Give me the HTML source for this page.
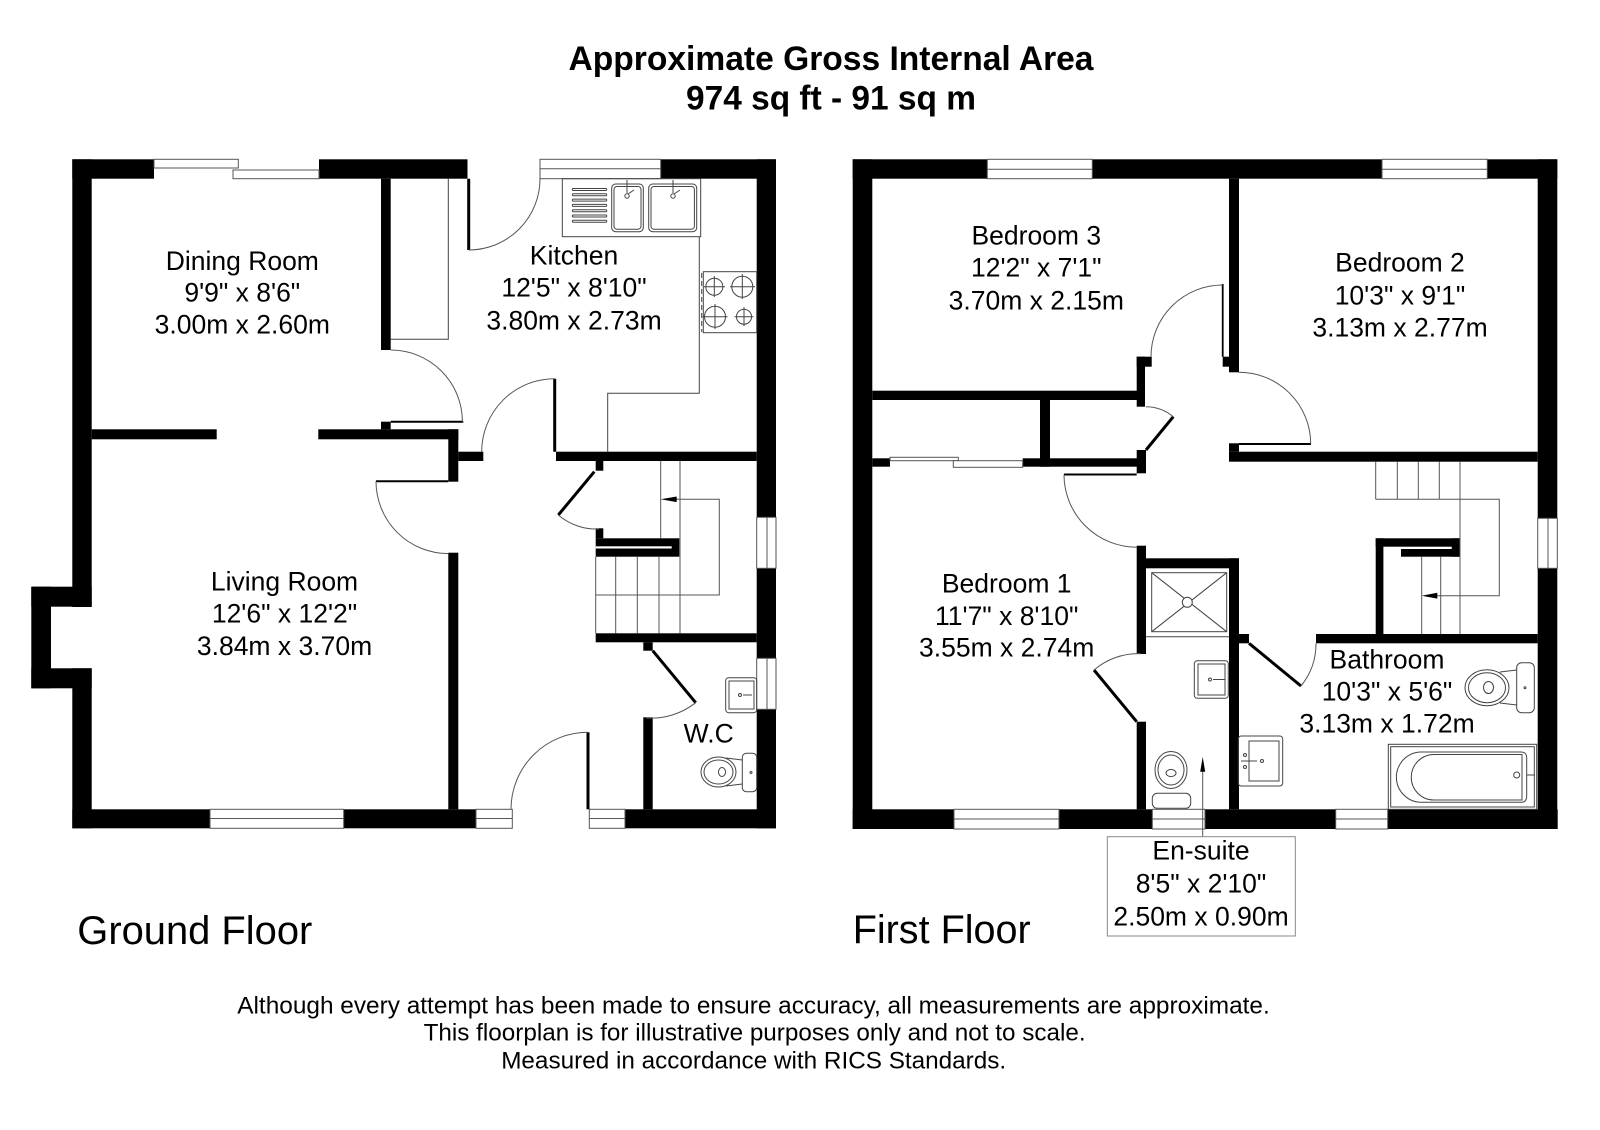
<!DOCTYPE html>
<html>
<head>
<meta charset="utf-8">
<style>
html,body{margin:0;padding:0;background:#fff;}
svg{display:block;}
text{font-family:"Liberation Sans",Arial,sans-serif;fill:#000;}
</style>
</head>
<body>
<svg width="1600" height="1130" viewBox="0 0 1600 1130" xmlns="http://www.w3.org/2000/svg">
<rect x="0" y="0" width="1600" height="1130" fill="#fff"/>

<!-- ===== TITLE ===== -->
<text x="831" y="70" font-size="34" font-weight="bold" text-anchor="middle" textLength="525" lengthAdjust="spacingAndGlyphs">Approximate Gross Internal Area</text>
<text x="831" y="109.5" font-size="34" font-weight="bold" text-anchor="middle" textLength="290" lengthAdjust="spacingAndGlyphs">974 sq ft - 91 sq m</text>

<!-- ===================== GROUND FLOOR ===================== -->
<g fill="#000">
  <rect x="72.3" y="159.3" width="81.7" height="19.4"/>
  <rect x="319" y="159.3" width="148.5" height="19.4"/>
  <rect x="660.7" y="159.3" width="115.3" height="19.4"/>
  <rect x="72.3" y="159.3" width="19.4" height="447.7"/>
  <rect x="72.3" y="668.3" width="19.4" height="160"/>
  <rect x="31.3" y="586.7" width="60.4" height="20"/>
  <rect x="31.3" y="586.7" width="19.7" height="101.6"/>
  <rect x="31.3" y="668.3" width="60.4" height="20"/>
  <rect x="72.3" y="809.3" width="137.7" height="19"/>
  <rect x="343.7" y="809.3" width="132.3" height="19"/>
  <rect x="625" y="809.3" width="151" height="19"/>
  <rect x="756.7" y="159.3" width="19.3" height="358"/>
  <rect x="756.7" y="568.3" width="19.3" height="90"/>
  <rect x="756.7" y="709.3" width="19.3" height="119"/>
  <rect x="381" y="178.7" width="9.7" height="171.3"/>
  <rect x="381" y="421.7" width="9.7" height="7.6"/>
  <rect x="91.7" y="429.3" width="125" height="10"/>
  <rect x="318.3" y="429.3" width="140" height="10"/>
  <rect x="448.3" y="429.3" width="10" height="52.4"/>
  <rect x="448.3" y="552.7" width="10" height="256.6"/>
  <rect x="458.3" y="451.7" width="25" height="9.3"/>
  <rect x="556" y="451.7" width="200.7" height="9.3"/>
  <rect x="595.7" y="460.7" width="7.6" height="10"/>
  <rect x="595.7" y="528.3" width="7.6" height="10"/>
  <rect x="595.7" y="538.3" width="83.6" height="18.4"/>
  <rect x="595.7" y="633.3" width="161" height="9"/>
  <rect x="643.3" y="642.3" width="9.4" height="8.4"/>
  <rect x="643.3" y="717.3" width="9.4" height="92"/>
</g>
<rect x="595.7" y="546.3" width="76" height="2.2" fill="#fff"/>

<g fill="#fff" stroke="#555" stroke-width="1">
  <rect x="154" y="159.3" width="84.3" height="8.7"/>
  <rect x="233" y="170" width="86" height="8.7"/>
  <rect x="540" y="159.3" width="120.7" height="19.4"/>
  <line x1="540" y1="168.7" x2="660.7" y2="168.7"/>
  <rect x="210" y="809.3" width="133.7" height="19"/>
  <line x1="210" y1="818.5" x2="343.7" y2="818.5"/>
  <rect x="476" y="809.3" width="36.3" height="19"/>
  <line x1="476" y1="818.5" x2="512.3" y2="818.5"/>
  <rect x="589.3" y="809.3" width="35.7" height="19"/>
  <line x1="589.3" y1="818.5" x2="625" y2="818.5"/>
  <rect x="756.7" y="517.3" width="19.3" height="51"/>
  <line x1="767" y1="517.3" x2="767" y2="568.3"/>
  <rect x="756.7" y="658.3" width="19.3" height="51"/>
  <line x1="767" y1="658.3" x2="767" y2="709.3"/>
</g>

<g fill="none" stroke="#000">
  <line x1="468.7" y1="178.7" x2="468.7" y2="250" stroke-width="3"/>
  <line x1="390.7" y1="421.7" x2="463.3" y2="421.7" stroke-width="2"/>
  <line x1="376" y1="481.3" x2="448.3" y2="481.3" stroke-width="2"/>
  <line x1="554.7" y1="378.7" x2="554.7" y2="451.7" stroke-width="3"/>
  <line x1="594.3" y1="471.7" x2="558.3" y2="515" stroke-width="3"/>
  <line x1="652.7" y1="650.7" x2="695.7" y2="702.7" stroke-width="3"/>
  <line x1="588" y1="732.3" x2="588" y2="809.3" stroke-width="3"/>
</g>
<g fill="none" stroke="#555" stroke-width="1">
  <path d="M468.7,250 A71.3,71.3 0 0 0 540,178.7"/>
  <path d="M390.7,350 A71.7,71.7 0 0 1 462.4,421.7"/>
  <path d="M376,481.3 A72.3,72.3 0 0 0 448.3,553.6"/>
  <path d="M554.7,378.7 A73,73 0 0 0 481.7,451.7"/>
  <path d="M558.3,515 A59,59 0 0 0 599,529"/>
  <path d="M695.7,702.7 A72,72 0 0 1 646,718"/>
  <path d="M588,732.3 A77,77 0 0 0 511,809.3"/>
</g>

<g fill="none" stroke="#444" stroke-width="1">
  <polyline points="390.7,339.3 448.3,339.3 448.3,178.7"/>
  <rect x="562.3" y="178.7" width="138.4" height="58"/>
  <rect x="611.7" y="184" width="31.6" height="47.7" rx="4"/>
  <rect x="614" y="186.5" width="27" height="42.7" rx="3"/>
  <rect x="648.7" y="184" width="48" height="47.7" rx="4"/>
  <rect x="651" y="186.5" width="43.4" height="42.7" rx="3"/>
  <circle cx="627" cy="196" r="2.2"/>
  <line x1="627" y1="180" x2="627" y2="193"/>
  <line x1="628" y1="194" x2="634" y2="190"/>
  <circle cx="673" cy="196" r="2.2"/>
  <line x1="673" y1="180" x2="673" y2="193"/>
  <line x1="674" y1="194" x2="680" y2="190"/>
  <polyline points="699.3,236.7 699.3,393.3 607.7,393.3 607.7,451.7"/>
  <rect x="703.3" y="271.7" width="53.4" height="61"/>
  <line x1="701.7" y1="273" x2="701.7" y2="332" stroke-dasharray="5,3"/>
  <circle cx="714.3" cy="286.7" r="8.5"/>
  <circle cx="742.3" cy="286.7" r="10.5"/>
  <circle cx="715" cy="316.7" r="10.5"/>
  <circle cx="744" cy="316.7" r="7.5"/>
  <line x1="714.3" y1="276" x2="714.3" y2="297"/><line x1="704" y1="286.7" x2="725" y2="286.7"/>
  <line x1="742.3" y1="274" x2="742.3" y2="299"/><line x1="730" y1="286.7" x2="755" y2="286.7"/>
  <line x1="715" y1="304" x2="715" y2="329"/><line x1="702.5" y1="316.7" x2="727.5" y2="316.7"/>
  <line x1="744" y1="307" x2="744" y2="326"/><line x1="734.5" y1="316.7" x2="753.5" y2="316.7"/>
</g>
<g fill="#fff" stroke="#444" stroke-width="1">
  <rect x="572.3" y="188.5" width="34.4" height="2" rx="1"/>
  <rect x="572.3" y="193.8" width="34.4" height="2" rx="1"/>
  <rect x="572.3" y="199.1" width="34.4" height="2" rx="1"/>
  <rect x="572.3" y="204.4" width="34.4" height="2" rx="1"/>
  <rect x="572.3" y="209.7" width="34.4" height="2" rx="1"/>
  <rect x="572.3" y="215" width="34.4" height="2" rx="1"/>
  <rect x="572.3" y="220.3" width="34.4" height="2" rx="1"/>
</g>

<g fill="none" stroke="#555" stroke-width="1">
  <line x1="660.7" y1="460.7" x2="660.7" y2="538.3"/>
  <line x1="680" y1="460.7" x2="680" y2="633.3"/>
  <polyline points="676,499.3 719.3,499.3 719.3,595 595.7,595"/>
  <line x1="595.7" y1="556.7" x2="595.7" y2="633.3"/>
  <line x1="615.7" y1="556.7" x2="615.7" y2="633.3"/>
  <line x1="637.3" y1="556.7" x2="637.3" y2="633.3"/>
  <line x1="659" y1="556.7" x2="659" y2="633.3"/>
</g>
<polygon points="660.7,499.3 676.7,496.5 676.7,502.1" fill="#000"/>

<g fill="none" stroke="#444" stroke-width="1">
  <rect x="725.7" y="677.7" width="31" height="35" rx="3"/>
  <rect x="729" y="681" width="25" height="28"/>
  <circle cx="740" cy="695" r="1.5"/>
  <line x1="743" y1="695" x2="752" y2="695"/>
  <rect x="742.3" y="753.3" width="14.4" height="38.4" rx="4"/>
  <ellipse cx="718.5" cy="772" rx="17.5" ry="15"/>
  <ellipse cx="718.5" cy="772" rx="14.5" ry="12"/>
  <ellipse cx="722" cy="772" rx="3.5" ry="4.5"/>
  <line x1="726" y1="758" x2="742.3" y2="760"/>
  <line x1="726" y1="786" x2="742.3" y2="784"/>
  <circle cx="751" cy="772.5" r="1"/>
</g>

<g font-size="26.5" text-anchor="middle">
  <text x="242.3" y="270">Dining Room</text>
  <text x="242.3" y="301.7">9'9" x 8'6"</text>
  <text x="242.3" y="333.3">3.00m x 2.60m</text>
  <text x="574" y="264.3">Kitchen</text>
  <text x="574" y="296.7">12'5" x 8'10"</text>
  <text x="574" y="329.3">3.80m x 2.73m</text>
  <text x="284.5" y="590.7">Living Room</text>
  <text x="284.5" y="622.3">12'6" x 12'2"</text>
  <text x="284.5" y="655">3.84m x 3.70m</text>
  <text x="708.7" y="742.7">W.C</text>
</g>

<!-- ===================== FIRST FLOOR ===================== -->
<g fill="#000">
  <rect x="852.7" y="159.3" width="134.6" height="19.4"/>
  <rect x="1092.3" y="159.3" width="289.7" height="19.4"/>
  <rect x="1487.3" y="159.3" width="70" height="19.4"/>
  <rect x="852.7" y="159.3" width="19.6" height="669.7"/>
  <rect x="1537.7" y="159.3" width="19.6" height="359"/>
  <rect x="1537.7" y="568.3" width="19.6" height="260.7"/>
  <rect x="852.7" y="809.3" width="101.3" height="19.7"/>
  <rect x="1059" y="809.3" width="93.3" height="19.7"/>
  <rect x="1205" y="809.3" width="130.7" height="19.7"/>
  <rect x="1387.7" y="809.3" width="170" height="19.7"/>
  <rect x="1229" y="178.7" width="10" height="193.6"/>
  <rect x="1222.7" y="356.7" width="6.3" height="10"/>
  <rect x="872.3" y="390.7" width="272.7" height="9.3"/>
  <rect x="1136.7" y="356.7" width="15" height="10"/>
  <rect x="1136.7" y="356.7" width="8.3" height="50"/>
  <rect x="1040" y="400" width="10" height="66.7"/>
  <rect x="1022.7" y="458.3" width="123.3" height="8.4"/>
  <rect x="872.3" y="458.3" width="17.7" height="8.4"/>
  <rect x="1136.7" y="450" width="9.3" height="23.3"/>
  <rect x="1136.7" y="545.7" width="9.3" height="108.3"/>
  <rect x="1136.7" y="721.7" width="9.3" height="87.6"/>
  <rect x="1146" y="558.3" width="93" height="10"/>
  <rect x="1229" y="558.3" width="10" height="251"/>
  <rect x="1229" y="451.7" width="308.7" height="10"/>
  <rect x="1229" y="443.3" width="10" height="8.4"/>
  <rect x="1229" y="634" width="20" height="9.3"/>
  <rect x="1316" y="634" width="221.7" height="9.3"/>
  <rect x="1375.7" y="538.3" width="84.3" height="8.4"/>
  <rect x="1375.7" y="538.3" width="7.7" height="95.7"/>
  <rect x="1451.7" y="538.3" width="8.3" height="18.4"/>
  <rect x="1401" y="549" width="59" height="7.7"/>
</g>

<g fill="#fff" stroke="#555" stroke-width="1">
  <rect x="987.3" y="159.3" width="105" height="19.4"/>
  <line x1="987.3" y1="169.3" x2="1092.3" y2="169.3"/>
  <rect x="1382" y="159.3" width="105.3" height="19.4"/>
  <line x1="1382" y1="169.3" x2="1487.3" y2="169.3"/>
  <rect x="1537.7" y="518.3" width="19.6" height="50"/>
  <line x1="1548" y1="518.3" x2="1548" y2="568.3"/>
  <rect x="954" y="809.3" width="105" height="19.7"/>
  <line x1="954" y1="819" x2="1059" y2="819"/>
  <rect x="1152.3" y="809.3" width="52.7" height="19.7"/>
  <line x1="1152.3" y1="819" x2="1205" y2="819"/>
  <rect x="1335.7" y="809.3" width="52" height="19.7"/>
  <line x1="1335.7" y1="819" x2="1387.7" y2="819"/>
  <rect x="890" y="457.3" width="68.3" height="3.4"/>
  <rect x="953.3" y="460.7" width="69.4" height="6.6"/>
</g>

<g fill="none" stroke="#000">
  <line x1="1222.7" y1="284" x2="1222.7" y2="356.7" stroke-width="1.8"/>
  <line x1="1146" y1="450" x2="1173.3" y2="416.7" stroke-width="3"/>
  <line x1="1064" y1="474.5" x2="1136.7" y2="474.5" stroke-width="2"/>
  <line x1="1136.7" y1="721.7" x2="1094" y2="670" stroke-width="3"/>
  <line x1="1239" y1="444" x2="1311" y2="444" stroke-width="2"/>
  <line x1="1249" y1="643.3" x2="1301" y2="686" stroke-width="3"/>
</g>
<g fill="none" stroke="#555" stroke-width="1">
  <path d="M1222.7,285 A71.7,71.7 0 0 0 1151,356.7"/>
  <path d="M1173.3,416.7 A43.3,43.3 0 0 0 1146,406.7"/>
  <path d="M1064,474.5 A72.7,72.7 0 0 0 1136.7,547.2"/>
  <path d="M1094,670 A68,68 0 0 1 1141,653.7"/>
  <path d="M1239,372.3 A71.7,71.7 0 0 1 1310.7,444"/>
  <path d="M1301,686 A67,67 0 0 0 1316,643.3"/>
</g>

<g fill="none" stroke="#555" stroke-width="1">
  <line x1="1375.7" y1="461.7" x2="1375.7" y2="499.3"/>
  <line x1="1397.3" y1="461.7" x2="1397.3" y2="499.3"/>
  <line x1="1418.3" y1="461.7" x2="1418.3" y2="499.3"/>
  <line x1="1439.3" y1="461.7" x2="1439.3" y2="499.3"/>
  <line x1="1460" y1="461.7" x2="1460" y2="634"/>
  <polyline points="1375.7,499.3 1499.3,499.3 1499.3,595.7 1437,595.7"/>
  <line x1="1421.7" y1="556.7" x2="1421.7" y2="634"/>
  <line x1="1440.7" y1="556.7" x2="1440.7" y2="634"/>
</g>
<polygon points="1421.7,595.7 1437.3,592.8 1437.3,598.6" fill="#000"/>

<g fill="none" stroke="#444" stroke-width="1">
  <rect x="1151.7" y="572.7" width="75" height="59"/>
  <line x1="1151.7" y1="572.7" x2="1226.7" y2="631.7"/>
  <line x1="1226.7" y1="572.7" x2="1151.7" y2="631.7"/>
  <line x1="1146" y1="636.7" x2="1229" y2="636.7"/>
  <rect x="1194.3" y="660.7" width="34" height="37.6" rx="3"/>
  <rect x="1198" y="664" width="27" height="31"/>
  <circle cx="1210" cy="679.5" r="1.5"/>
  <line x1="1213" y1="679.5" x2="1225" y2="679.5"/>
  <ellipse cx="1171" cy="770" rx="16" ry="18.5"/>
  <ellipse cx="1171" cy="770" rx="13" ry="15"/>
  <ellipse cx="1171" cy="773" rx="5" ry="3.5"/>
  <rect x="1152.3" y="793.3" width="38.4" height="15" rx="5"/>
</g>
<circle cx="1187.3" cy="602.3" r="5" fill="#fff" stroke="#444" stroke-width="1"/>
<line x1="1202.7" y1="770" x2="1202.7" y2="836.7" stroke="#555" stroke-width="1"/>
<polygon points="1202.7,757 1200.2,771.7 1205.2,771.7" fill="#000"/>

<g fill="none" stroke="#444" stroke-width="1">
  <rect x="1516.7" y="662.7" width="17.6" height="50" rx="5"/>
  <ellipse cx="1487" cy="687.7" rx="22" ry="18"/>
  <ellipse cx="1487" cy="687.7" rx="18.5" ry="15"/>
  <ellipse cx="1488.5" cy="687.5" rx="5" ry="6"/>
  <line x1="1500" y1="672" x2="1516.7" y2="670"/>
  <line x1="1500" y1="703" x2="1516.7" y2="705"/>
  <circle cx="1525" cy="687.7" r="1"/>
  <rect x="1388.3" y="744.3" width="148.4" height="65"/>
  <rect x="1390.7" y="746.7" width="143.6" height="60.3"/>
  <path d="M1420,752 L1521,752 Q1526.7,752 1526.7,758 L1526.7,796 Q1526.7,802.3 1521,802.3 L1420,802.3 A25.2,25.2 0 0 1 1420,752 Z"/>
  <path d="M1434,754.5 L1522,754.5 L1522,800 L1434,800 A22.7,22.7 0 0 1 1434,754.5 Z"/>
  <circle cx="1516.7" cy="775" r="3"/>
  <line x1="1527" y1="775" x2="1535" y2="775"/>
  <rect x="1238.3" y="736" width="44.4" height="50" rx="3"/>
  <rect x="1249" y="741" width="30" height="40"/>
  <circle cx="1262" cy="761" r="1.5"/>
  <line x1="1241" y1="761" x2="1257" y2="761"/>
  <circle cx="1245" cy="755" r="1.5"/>
  <circle cx="1245" cy="767" r="1.5"/>
</g>

<g font-size="26.5" text-anchor="middle">
  <text x="1036.3" y="244.3">Bedroom 3</text>
  <text x="1036.3" y="276.7">12'2" x 7'1"</text>
  <text x="1036.3" y="309.3">3.70m x 2.15m</text>
  <text x="1400" y="271.7">Bedroom 2</text>
  <text x="1400" y="304.3">10'3" x 9'1"</text>
  <text x="1400" y="336.7">3.13m x 2.77m</text>
  <text x="1006.7" y="592.7">Bedroom 1</text>
  <text x="1006.7" y="625">11'7" x 8'10"</text>
  <text x="1006.7" y="656.7">3.55m x 2.74m</text>
  <text x="1387" y="668.3">Bathroom</text>
  <text x="1387" y="700.7">10'3" x 5'6"</text>
  <text x="1387" y="732.7">3.13m x 1.72m</text>
</g>

<rect x="1107.3" y="836.7" width="188" height="99.3" fill="#fff" stroke="#888" stroke-width="1"/>
<g font-size="26.5" text-anchor="middle">
  <text x="1201" y="859.3">En-suite</text>
  <text x="1201" y="892.7">8'5" x 2'10"</text>
  <text x="1201" y="925.3">2.50m x 0.90m</text>
</g>

<text x="77.3" y="944" font-size="40" textLength="235" lengthAdjust="spacingAndGlyphs">Ground Floor</text>
<text x="852.7" y="943" font-size="40" textLength="178" lengthAdjust="spacingAndGlyphs">First Floor</text>

<g font-size="24.3" text-anchor="middle">
  <text x="753.5" y="1013.3" textLength="1032.5" lengthAdjust="spacingAndGlyphs">Although every attempt has been made to ensure accuracy, all measurements are approximate.</text>
  <text x="754.6" y="1040.5" textLength="662" lengthAdjust="spacingAndGlyphs">This floorplan is for illustrative purposes only and not to scale.</text>
  <text x="753.7" y="1068.3" textLength="505" lengthAdjust="spacingAndGlyphs">Measured in accordance with RICS Standards.</text>
</g>
</svg>
</body>
</html>
